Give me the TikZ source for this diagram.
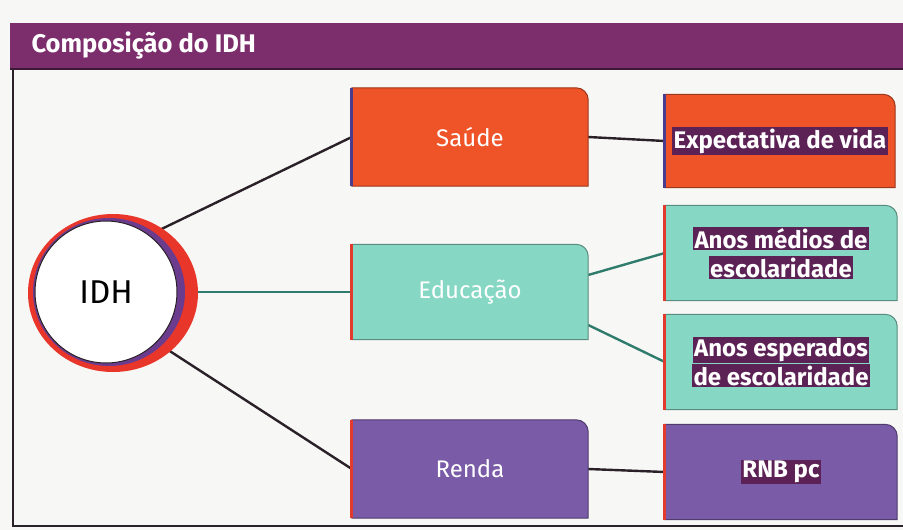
\documentclass[tikz,border=0pt]{standalone}
\usepackage{fontspec}
\setmainfont{Fira Sans}
\usetikzlibrary{backgrounds}
\definecolor{pagebg}{HTML}{F7F7F5}
\definecolor{hdrpurple}{HTML}{7C2E6C}
\definecolor{saudeorange}{HTML}{EF5428}
\definecolor{eductea}{HTML}{86D8C4}
\definecolor{rendapurple}{HTML}{7A5BA7}
\definecolor{hlpurple}{HTML}{5C2255}
\definecolor{ringred}{HTML}{E8362A}
\definecolor{ringpurple}{HTML}{6B3C8E}
\definecolor{stripered}{HTML}{E23A2C}
\definecolor{stripeblue}{HTML}{4A3C8C}
\definecolor{linkdark}{HTML}{2A2028}
\definecolor{linkteal}{HTML}{2F7C6C}
\setlength{\fboxsep}{1.5pt}
\newcommand{\hltag}[1]{\colorbox{hlpurple}{#1}}
\tikzset{
  box/.style={minimum width=236pt, minimum height=98pt, inner sep=0pt, text=white, font=\fontsize{24}{28}\selectfont},
  tagbox/.style={minimum width=232pt, minimum height=95pt, inner sep=0pt, text=white, align=center, font=\bfseries\fontsize{24}{29}\selectfont},
  link/.style={line width=2.4pt, linkdark},
  tlink/.style={line width=2.4pt, linkteal},
}
\begin{document}
\begin{tikzpicture}[x=1pt,y=-1pt]
    \useasboundingbox (0,0) rectangle (903,530);
    \node[anchor=west, text=white, font=\bfseries\fontsize{25.5}{30}\selectfont] at (28,45) (title) {Composição do IDH};
    \node[circle, minimum size=142pt, inner sep=0pt, font=\fontsize{33}{38}\selectfont] at (106,292) (idh) {IDH};
    \node[box] at (470,137) (saude) {Saúde};
    \node[box, minimum height=95pt] at (470,292) (educ) {Educação};
    \node[box] at (470,469) (renda) {Renda};
    \node[tagbox, minimum width=230pt, minimum height=93pt] at (780,141) (expvida) {\hltag{Expectativa de vida}};
    \node[tagbox] at (781,253) (anosmed) {\hltag{Anos médios de}\\\hltag{escolaridade}};
    \node[tagbox] at (781,362) (anosesp) {\hltag{Anos esperados}\\\hltag{de escolaridade}};
    \node[tagbox] at (781,472) (rnb) {\hltag{RNB pc}};
    \begin{pgfonlayer}{background}
        \fill[pagebg] (0,0) rectangle (903,530);
        \fill[hdrpurple] (10,23) rectangle (903,69);
        \draw[hdrpurple!50!black, line width=2pt] (10,69) -- (903,69);
        \draw[linkdark, line width=2pt] (13,69) -- (13,526) -- (903,526);
        % connectors
        \draw[link] (idh.53) -- (saude.west);
        \draw[tlink] (idh.east) -- (educ.west);
        \draw[link] (idh.-45) -- (renda.west);
        \draw[link] (saude.east) -- (expvida.west);
        \draw[tlink] ([yshift=17pt]educ.east) -- (anosmed.west);
        \draw[tlink] ([yshift=-33pt]educ.east) -- (anosesp.west);
        \draw[link] (renda.east) -- (rnb.west);
        % ring
        \fill[ringred] (113,293) ellipse [x radius=85, y radius=79];
        \fill[ringpurple] (109,292) ellipse [x radius=76, y radius=74];
        \fill[white, draw=linkdark, line width=1pt] (idh.center) circle [radius=71];
        % boxes
        \foreach \n/\c/\s in {saude/saudeorange/stripeblue, expvida/saudeorange/stripeblue,
                              educ/eductea/stripered, anosmed/eductea/stripered, anosesp/eductea/stripered,
                              renda/rendapurple/stripered, rnb/rendapurple/stripered}{
            \fill[\c, draw=\c!65!black, line width=1pt] (\n.south west) -- (\n.south east) [rounded corners=12pt] -- (\n.north east) [sharp corners] -- (\n.north west) -- cycle;
            \draw[\s, line width=3pt] (\n.south west) -- (\n.north west);
        }
    \end{pgfonlayer}
\end{tikzpicture}
\end{document}
